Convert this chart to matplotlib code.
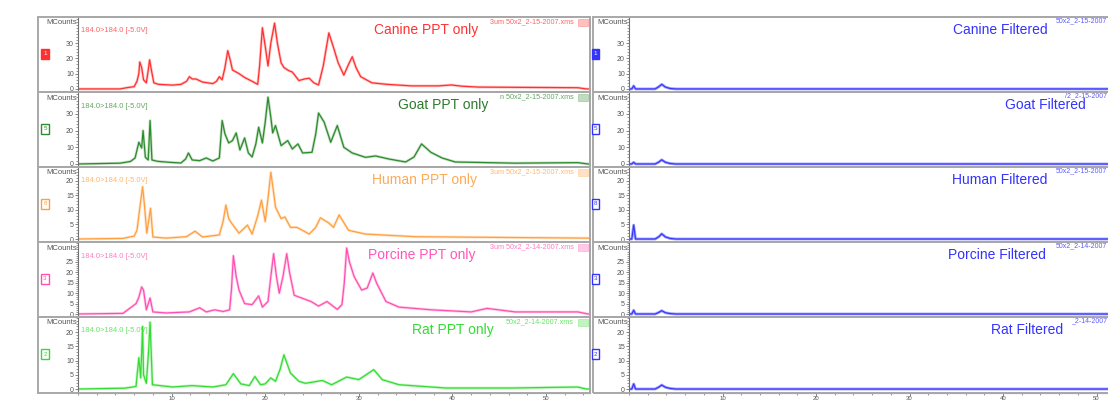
import numpy as np
import matplotlib
matplotlib.use('Agg')
import matplotlib.pyplot as plt
from matplotlib.patches import Rectangle
from matplotlib.ticker import MultipleLocator

plt.rcParams['font.family'] = ['Liberation Sans', 'DejaVu Sans']

# ---- data (time in min, MCounts) ----
species = ['Canine', 'Goat', 'Human', 'Porcine', 'Rat']

canine_t = [0, 4.5, 5.2, 6.0, 6.3, 6.5, 6.6, 6.8, 7.0, 7.3, 7.5, 7.65, 7.85, 8.1, 8.6, 9.5, 10.1, 11.0, 11.6, 11.9,
            12.2, 12.6, 13.3, 14.4, 14.8, 15.1, 15.4, 15.7, 16.0, 16.3, 16.5, 17.2, 17.8, 18.6, 19.2, 19.4, 19.7, 20.0,
            20.3, 20.6, 21.0, 21.3, 21.7, 22.0, 22.5, 22.9, 23.6, 24.2, 24.7, 25.2, 25.7, 26.2, 26.8, 27.3, 27.8, 28.4,
            28.9, 29.3, 29.7, 30.2, 31.4, 33.0, 35.6, 38.5, 39.9, 41.0, 42.8, 48.0, 53.4, 54.3, 55]
canine_v = [0, 0, 0.8, 1.5, 5, 10, 17.6, 14, 6, 4, 12, 19, 12, 4, 3, 2.7, 2.5, 3, 5, 8,
            6.5, 6.5, 4.5, 3.5, 5, 8, 6, 14, 25, 18, 12.4, 10, 7.5, 5, 3, 15, 40, 28,
            15, 30, 43, 30, 17, 14, 12, 11, 5.5, 6.5, 7, 4, 2.6, 15, 36.6, 27, 17, 9,
            16, 21, 14, 8, 4, 3, 2, 2, 2.6, 1.8, 1.2, 1, 0.8, 0, 0]

goat_t = [0, 4.5, 5.6, 6.1, 6.5, 6.8, 6.95, 7.2, 7.5, 7.7, 7.9, 8.5, 9.8, 11.0, 11.5, 11.8, 12.2, 13.0, 13.7, 14.4,
          15.1, 15.4, 15.7, 16.1, 16.5, 16.9, 17.3, 17.8, 18.2, 18.6, 19.0, 19.3, 19.7, 20.0, 20.3, 20.6, 20.8, 21.1,
          21.7, 22.4, 22.9, 23.5, 24.0, 25.0, 25.4, 25.7, 26.3, 27.0, 27.7, 28.4, 29.3, 30.7, 31.8, 33.2, 35.0, 35.9,
          36.7, 37.7, 38.9, 40.3, 46.7, 53.4, 54.5, 55]
goat_v = [0, 0.5, 1.5, 3.6, 13, 9.6, 20, 4, 2.4, 26, 2.4, 1.6, 1, 0.6, 3, 6.6, 2.4, 2, 3.6, 1.8,
          3.6, 26, 18, 12.6, 14, 18.6, 8.4, 15.6, 6.6, 4.2, 12, 22, 12.6, 25, 40, 28, 18.6, 23,
          11, 14, 9, 12, 6.6, 7, 18, 30.5, 25, 13, 23, 10, 6.6, 4, 4.8, 3, 1.2, 4.2,
          12, 7, 3.6, 1.2, 0.5, 0.8, 0, 0]

human_t = [0, 4.8, 6.0, 6.3, 6.6, 6.9, 7.1, 7.35, 7.75, 8.0, 9.4, 11.6, 12.5, 13.3, 15.1, 15.5, 15.8, 16.1, 16.4,
           17.2, 18.1, 18.6, 19.2, 19.6, 20.0, 20.3, 20.6, 20.9, 21.1, 21.7, 22.1, 22.7, 23.4, 24.7, 25.4, 25.9,
           26.8, 27.3, 27.9, 28.9, 30.7, 36.0, 43.1, 54.5, 55]
human_v = [0, 0.2, 1, 3, 10.6, 18, 11.7, 2, 10.6, 0.7, 0.3, 0.8, 2.7, 0.7, 1.4, 6, 11.7, 7, 5.5,
           2, 4.8, 1.7, 8, 13.4, 6, 14, 23, 16, 11, 7, 7.6, 4, 4, 1.7, 4, 7.3,
           5.5, 4, 8.3, 3, 1.7, 0.8, 0.6, 0.3, 0]

porcine_t = [0, 4.8, 6.2, 6.5, 6.8, 7.0, 7.3, 7.7, 8.0, 9.4, 11.9, 13.0, 13.7, 14.6, 15.5, 16.2, 16.4, 16.6, 16.9,
             17.2, 17.8, 18.6, 19.3, 19.7, 20.3, 20.6, 20.9, 21.2, 21.5, 21.9, 22.3, 22.6, 23.1, 24.0, 24.9, 25.7,
             26.6, 27.7, 28.2, 28.45, 28.7, 29.0, 29.5, 30.3, 30.9, 31.5, 31.9, 32.9, 34.3, 37.8, 42.0, 43.7, 46.7,
             53.4, 54.5, 55]
porcine_v = [0, 0.3, 5, 8, 13, 11.5, 2, 7.7, 1, 0.5, 1, 3, 1, 2, 1.2, 2, 12, 28, 18,
             11.5, 5, 4.5, 8.7, 3.3, 6, 18, 29, 18, 10, 18, 29, 20, 9, 7.5, 6, 3.8,
             6, 2.2, 4.5, 15, 31.7, 25, 18, 11.5, 12.5, 19.7, 14.9, 6, 3.3, 2, 1, 2.7, 1,
             1, 0, 0]

rat_t = [0, 5.0, 6.2, 6.5, 6.7, 6.9, 7.0, 7.3, 7.55, 7.7, 7.95, 10.1, 12.2, 14.4, 15.8, 16.6, 17.4, 18.3, 18.9,
         19.5, 20.0, 20.6, 21.1, 21.6, 22.0, 22.7, 23.6, 24.3, 26.1, 27.1, 28.7, 30.0, 31.6, 32.5, 34.3, 39.3,
         46.3, 53.4, 54.3, 55]
rat_v = [0, 0.3, 0.9, 11, 3.9, 22, 5, 2, 13.8, 23.5, 1.5, 0.7, 1.2, 0.7, 1.5, 5.4, 1.8, 1.2, 4.4,
         1.5, 1.8, 3.9, 2.7, 7, 12, 5.6, 2.7, 2, 3, 1.5, 4.2, 3.3, 6.8, 3.3, 1.5, 0.35,
         0.35, 0.7, 0, 0]

filt_t = [0, 0.3, 0.5, 0.7, 2.8, 3.2, 3.5, 3.9, 4.4, 5.0, 52]
canine_f = [0, 0, 2.0, 0, 0, 1.5, 3.0, 1.2, 0.3, 0, 0]
goat_f = [0, 0, 1.0, 0, 0, 1.2, 2.5, 1.0, 0.3, 0, 0]
human_f = [0, 0, 4.8, 0, 0, 0.8, 1.8, 0.7, 0.2, 0, 0]
porcine_f = [0, 0, 1.8, 0, 0, 0.8, 1.6, 0.6, 0.2, 0, 0]
rat_f = [0, 0, 1.8, 0, 0, 0.7, 1.4, 0.6, 0.2, 0, 0]

ppt_t = [canine_t, goat_t, human_t, porcine_t, rat_t]
ppt_v = [canine_v, goat_v, human_v, porcine_v, rat_v]
filt_v = [canine_f, goat_f, human_f, porcine_f, rat_f]

# ---- styling ----
colors = ['#ff3030', '#2e8b2e', '#ffa040', '#ff50b0', '#33dd33']
title_colors = ['#ff3333', '#2d7a2d', '#ffaa55', '#ff55bb', '#33dd33']
blue = '#3333ff'
ylims = [(-2.0, 47.0), (-1.8, 43.1), (-1.03, 24.8), (-1.44, 34.6), (-1.4, 25.3)]
ysteps = [10, 10, 5, 5, 5]
ymaxtick = [30, 30, 20, 25, 20]
files_l = ['3um 50x2_2-15-2007.xms', 'n 50x2_2-15-2007.xms', '3um 50x2_2-15-2007.xms',
           '3um 50x2_2-14-2007.xms', '50x2_2-14-2007.xms']
files_r = ['50x2_2-15-2007', '/2_2-15-2007', '50x2_2-15-2007', '50x2_2-14-2007', '_2-14-2007']
box_ids = ['1', '5', '8', '3', '2']
panels = [(17, 92), (92, 167), (167, 242), (242, 317), (317, 393)]
title_x_l = [426, 443, 425, 422, 453]
title_x_r = [1000, 1045, 1000, 997, 1027]

W, H = 1108, 401
fig = plt.figure(figsize=(W / 100, H / 100), dpi=100)


def fx(px):
    return px / W


def fy(py):
    return 1 - py / H


grey = '#a8a8a8'
axcol = '#707070'


def make_axes(x0, x1, top, bot, xmax, i):
    ax = fig.add_axes([fx(x0), fy(bot), (x1 - x0) / W, (bot - top) / H])
    ax.set_xlim(0, xmax)
    ax.set_ylim(*ylims[i])
    for s in ['top', 'right', 'bottom']:
        ax.spines[s].set_color(grey)
        ax.spines[s].set_linewidth(1.4)
    ax.spines['left'].set_color(axcol)
    ax.spines['left'].set_linewidth(0.8)
    ax.set_yticks(np.arange(0, ymaxtick[i] + 1, ysteps[i]))
    ax.yaxis.set_minor_locator(MultipleLocator(ysteps[i] / 5))
    ax.tick_params(axis='y', which='major', length=2.5, width=0.6, color=axcol,
                   labelsize=5, labelcolor='#555555', pad=0.5)
    ax.tick_params(axis='y', which='minor', length=1.3, width=0.5, color=axcol)
    if i == 4:
        ax.spines['bottom'].set_color(axcol)
        ax.spines['bottom'].set_linewidth(0.8)
        ax.set_xticks(np.arange(10, 51, 10))
        ax.xaxis.set_minor_locator(MultipleLocator(2))
        ax.tick_params(axis='x', which='major', length=2.0, width=0.6, color=axcol,
                       labelsize=4.3, labelcolor='#555555', pad=0.1)
        ax.tick_params(axis='x', which='minor', length=1.2, width=0.5, color=axcol)
    else:
        ax.set_xticks([])
    ax.set_facecolor('white')
    return ax


for i in range(5):
    top, bot = panels[i]
    col = colors[i]

    # left column frame
    fig.add_artist(Rectangle((fx(38), fy(bot)), (590 - 38) / W, (bot - top) / H,
                             transform=fig.transFigure, fill=False, ec=grey, lw=1.4))
    # right column frame
    fig.add_artist(Rectangle((fx(593), fy(bot)), (1120 - 593) / W, (bot - top) / H,
                             transform=fig.transFigure, fill=False, ec=grey, lw=1.4))

    axl = make_axes(78, 590, top, bot, 54.7, i)
    axl.plot(ppt_t[i], ppt_v[i], color=col, lw=2.0, alpha=0.28, solid_joinstyle='round')
    axl.plot(ppt_t[i], ppt_v[i], color=col, lw=0.9, solid_joinstyle='round')

    axr = make_axes(629, 1108, top, bot, (1108 - 629) / 9.35, i)
    axr.spines['right'].set_visible(False)
    axr.plot(filt_t, filt_v[i], color='#9a9aff', lw=2.0)
    axr.plot(filt_t, filt_v[i], color=blue, lw=0.8)

    # labels
    fig.text(fx(77), fy(top + 6), 'MCounts', fontsize=5.5, color='#555555', ha='right', va='center')
    fig.text(fx(628), fy(top + 6), 'MCounts', fontsize=5.5, color='#555555', ha='right', va='center')
    fig.text(fx(81), fy(top + 14), '184.0>184.0 [-5.0V]', fontsize=5.4, color=col, alpha=0.75,
             ha='left', va='center')
    fig.text(fx(title_x_l[i]), fy(top + 13), species[i] + ' PPT only', fontsize=10,
             color=title_colors[i], ha='center', va='center')
    fig.text(fx(title_x_r[i]), fy(top + 13), species[i] + ' Filtered', fontsize=10,
             color=blue, ha='center', va='center')
    fig.text(fx(574), fy(top + 5), files_l[i], fontsize=5.2, color=col, alpha=0.75,
             ha='right', va='center')
    fig.text(fx(1107), fy(top + 4), files_r[i], fontsize=5.0, color=blue, alpha=0.8,
             ha='right', va='center')
    # little hatched icon at top right of left panels
    fig.add_artist(Rectangle((fx(578), fy(top + 9)), 10 / W, 7 / H, transform=fig.transFigure,
                             fc=col, alpha=0.3, ec=col, lw=0.6))

    # trace id boxes
    cy = (top + bot) / 2 - 1
    filled = (i == 0)
    fig.add_artist(Rectangle((fx(41), fy(cy + 5)), 8 / W, 10 / H, transform=fig.transFigure,
                             fc=col if filled else 'white', ec=col, lw=1.0))
    fig.text(fx(45), fy(cy), box_ids[i], fontsize=4.5, color='white' if filled else col,
             ha='center', va='center')
    fig.add_artist(Rectangle((fx(592), fy(cy + 5)), 7 / W, 10 / H, transform=fig.transFigure,
                             fc=blue if filled else 'white', ec=blue, lw=1.0))
    fig.text(fx(595.5), fy(cy), box_ids[i], fontsize=4.5, color='white' if filled else blue,
             ha='center', va='center')

fig.savefig('out.png', dpi=100)
